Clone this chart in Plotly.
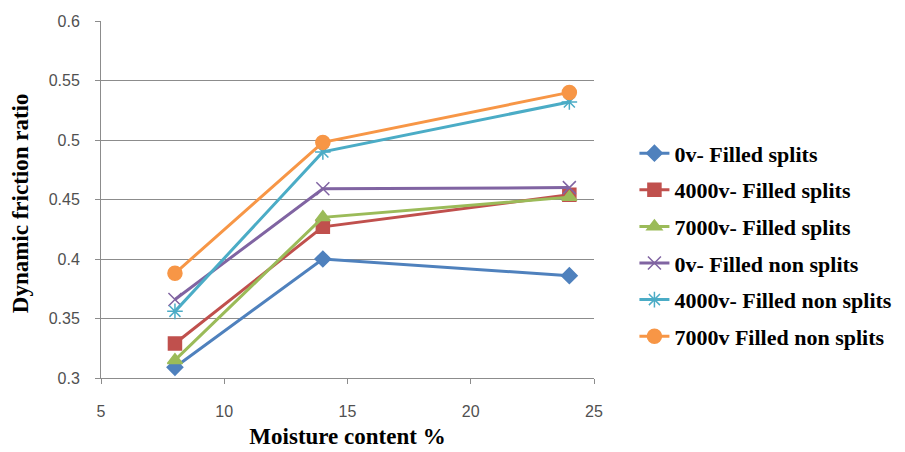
import plotly.graph_objects as go

moisture = [8, 14, 24]
s_0v_split = [0.309, 0.400, 0.386]
s_4000v_split = [0.329, 0.427, 0.454]
s_7000v_split = [0.315, 0.435, 0.452]
s_0v_nonsplit = [0.366, 0.459, 0.460]
s_4000v_nonsplit = [0.356, 0.490, 0.532]
s_7000v_nonsplit = [0.388, 0.498, 0.540]

names = ["0v- Filled splits", "4000v- Filled splits", "7000v- Filled splits",
         "0v- Filled non splits", "4000v- Filled non splits", "7000v Filled non splits"]
series = [s_0v_split, s_4000v_split, s_7000v_split, s_0v_nonsplit, s_4000v_nonsplit, s_7000v_nonsplit]
colors = ["#4F81BD", "#C0504D", "#9BBB59", "#8064A2", "#4BACC6", "#F79646"]
symbols = ["diamond", "square", "triangle-up", "x-thin-open", "asterisk-open", "circle"]
sizes = [12, 13, 13, 13, 13, 14]

fig = go.Figure()
for i, (n, s) in enumerate(zip(names, series)):
    fig.add_trace(go.Scatter(
        x=moisture, y=s, name=n, mode="lines+markers",
        legendgroup=f"g{i}",
        line=dict(color=colors[i], width=3),
        marker=dict(symbol=symbols[i], size=sizes[i], color=colors[i],
                    line=dict(color=colors[i], width=1.5)),
    ))

serif = "Times New Roman, Liberation Serif, serif"
tickfont = dict(family="Liberation Sans", size=16, color="#505050")

fig.update_layout(
    width=905, height=452,
    margin=dict(l=93, r=319, t=13, b=82),
    paper_bgcolor="white", plot_bgcolor="white",
    showlegend=True,
    legend=dict(x=1.082, y=0.688, xanchor="left", yanchor="top",
                font=dict(family=serif, size=22, color="black", weight="bold"),
                tracegroupgap=5, bgcolor="rgba(0,0,0,0)"),
    xaxis=dict(range=[5, 25], tickvals=[5, 10, 15, 20, 25], showgrid=False,
               showline=True, linecolor="#8c8c8c", linewidth=1,
               ticks="outside", tickcolor="#8c8c8c", ticklen=5,
               ticklabelstandoff=14, automargin=False,
               tickfont=tickfont,
               title=dict(text="Moisture content %", standoff=8,
                          font=dict(family=serif, size=23, color="black", weight="bold")),
               zeroline=False),
    yaxis=dict(range=[0.3, 0.6], tickvals=[0.3, 0.35, 0.4, 0.45, 0.5, 0.55, 0.6],
               ticktext=["0.3", "0.35", "0.4", "0.45", "0.5", "0.55", "0.6"],
               showgrid=True, gridcolor="#8c8c8c", gridwidth=1,
               showline=True, linecolor="#8c8c8c", linewidth=1,
               ticks="outside", tickcolor="#8c8c8c", ticklen=5,
               ticklabelstandoff=12, automargin=False,
               tickfont=tickfont,
               zeroline=False),
    annotations=[dict(text="Dynamic friction ratio", textangle=-90,
                      xref="paper", yref="paper", x=-0.164, y=0.49,
                      xanchor="center", yanchor="middle", showarrow=False,
                      font=dict(family=serif, size=23, color="black", weight="bold"))],
)

fig.write_html("out.html")
